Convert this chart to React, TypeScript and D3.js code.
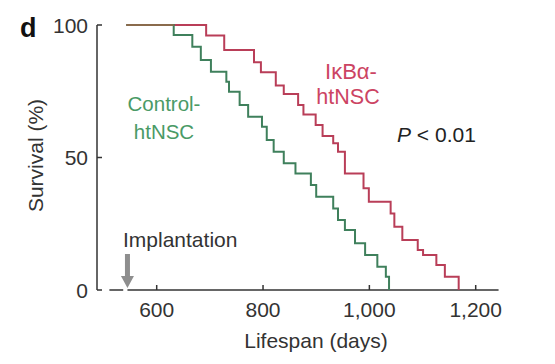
import * as React from 'react';
import * as d3 from 'd3';

// Kaplan-Meier steps (day of drop, survival % after drop)
const controlDays = [543, 632, 667, 683, 702, 731, 736, 756, 772, 798, 807, 820, 839, 861, 890, 900, 932, 941, 954, 973, 992, 1015, 1031, 1037];
const controlSurvival = [100, 96.2, 91.8, 86.8, 82.4, 78.6, 74.8, 69.8, 65.4, 61.6, 56.6, 52.2, 47.8, 44.0, 39.6, 35.2, 30.8, 26.4, 22.6, 17.6, 13.2, 8.8, 5.0, 0];

const ikbaDays = [543, 693, 727, 783, 796, 824, 839, 866, 876, 899, 912, 932, 941, 954, 989, 999, 1040, 1047, 1062, 1091, 1101, 1126, 1142, 1168];
const ikbaSurvival = [100, 96.0, 90.6, 85.9, 82.2, 77.2, 74.0, 69.8, 66.2, 62.3, 58.1, 55.4, 52.2, 44.0, 38.4, 33.3, 28.9, 23.9, 18.9, 15.1, 13.2, 9.4, 5.0, 0];

const xTicks = [600, 800, 1000, 1200];
const xTickLabels = ['600', '800', '1,000', '1,200'];
const yTicks = [0, 50, 100];

const axisStubDays = [511, 537];
const axisMainDays = [545, 1243];
const implantationDay = 545;

const FONT = '"Liberation Sans", Arial, Helvetica, sans-serif';
const GREEN = '#3f805c';
const RED = '#b93e58';
const INK = '#333';

export default function App() {
  const x = d3.scaleLinear().domain([600, 1200]).range([156.7, 475.7]);
  const y = d3.scaleLinear().domain([0, 100]).range([290, 25]);

  const line = d3.line<[number, number]>()
    .x(d => x(d[0]))
    .y(d => y(d[1]))
    .curve(d3.curveStepAfter);

  const control = controlDays.map((d, i) => [d, controlSurvival[i]] as [number, number]);
  const ikba = ikbaDays.map((d, i) => [d, ikbaSurvival[i]] as [number, number]);
  const shared: [number, number][] = [[controlDays[0], 100], [controlDays[1], 100]];

  const ax = 97;
  const y0 = y(0);
  const arrowX = x(implantationDay);

  return (
    <svg width={555} height={364} style={{ position: 'absolute', left: 0, top: 0, background: '#fff' }} fontFamily={FONT}>
      {/* panel letter */}
      <text x={20} y={37} fontSize={27} fontWeight="bold" fill="#111">d</text>

      {/* y axis */}
      <line x1={ax} x2={ax} y1={y(100)} y2={y0} stroke={INK} strokeWidth={1.5} />
      {yTicks.map(t => (
        <g key={t}>
          <line x1={ax} x2={ax + 5} y1={y(t)} y2={y(t)} stroke={INK} strokeWidth={1.5} />
          <text x={88} y={y(t) + 7.5} fontSize={21} textAnchor="end" fill={INK}>{t}</text>
        </g>
      ))}
      <text transform={`translate(43,${y(50) - 2}) rotate(-90)`} fontSize={21} textAnchor="middle" fill={INK}>Survival (%)</text>

      {/* x axis, broken */}
      <line x1={x(axisStubDays[0])} x2={x(axisStubDays[1])} y1={y0} y2={y0} stroke={INK} strokeWidth={1.5} />
      <line x1={x(axisMainDays[0])} x2={x(axisMainDays[1])} y1={y0} y2={y0} stroke={INK} strokeWidth={1.5} />
      {xTicks.map((t, i) => (
        <g key={t}>
          <line x1={x(t)} x2={x(t)} y1={y0} y2={y0 - 5} stroke={INK} strokeWidth={1.5} />
          <text x={x(t)} y={317} fontSize={21} textAnchor="middle" fill={INK}>{xTickLabels[i]}</text>
        </g>
      ))}
      <text x={316} y={348} fontSize={21} textAnchor="middle" fill={INK}>Lifespan (days)</text>

      {/* curves */}
      <path d={line(ikba) || ''} fill="none" stroke={RED} strokeWidth={2} />
      <path d={line(control) || ''} fill="none" stroke={GREEN} strokeWidth={2} />
      <path d={line(shared) || ''} fill="none" stroke="#8a6b4c" strokeWidth={2.2} />

      {/* implantation marker */}
      <text x={123} y={247} fontSize={21} fill={INK}>Implantation</text>
      <path
        d={`M${arrowX - 2.5},254 L${arrowX + 2.5},254 L${arrowX + 2.5},276 L${arrowX + 6.5},276 L${arrowX},288 L${arrowX - 6.5},276 L${arrowX - 2.5},276 Z`}
        fill="#8e8e8e"
      />

      {/* labels */}
      <text x={164} y={111} fontSize={20.5} textAnchor="middle" fill="#4a9a66">Control-</text>
      <text x={164} y={139} fontSize={20.5} textAnchor="middle" fill="#4a9a66">htNSC</text>
      <text x={351} y={79} fontSize={22} textAnchor="middle" fill="#cc4463">IκBα-</text>
      <text x={348} y={104} fontSize={21.5} textAnchor="middle" fill="#cc4463">htNSC</text>
      <text x={397} y={142} fontSize={21} fill="#222">
        <tspan fontStyle="italic">P</tspan>
        <tspan> &lt; 0.01</tspan>
      </text>
    </svg>
  );
}
